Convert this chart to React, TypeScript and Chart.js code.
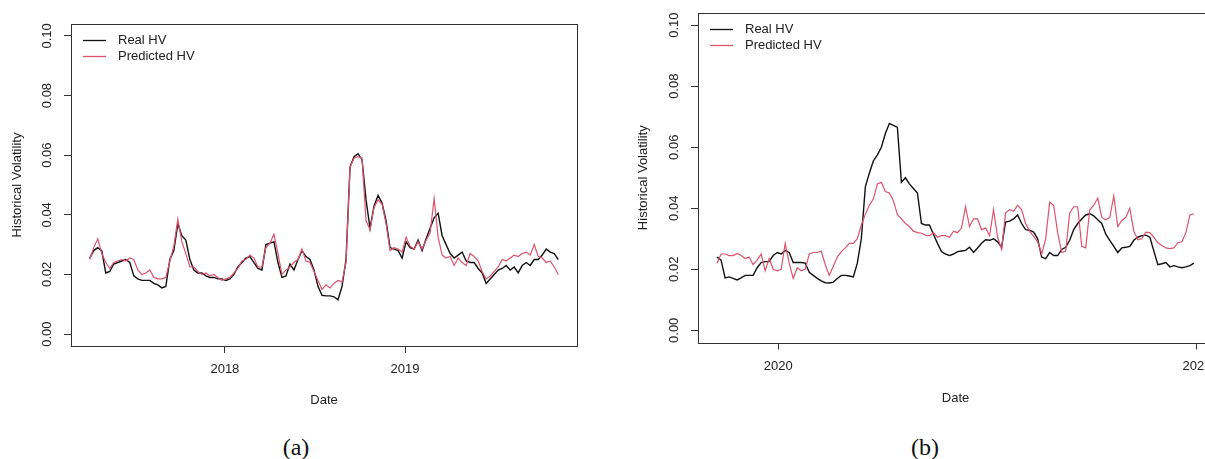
import React, { useEffect, useRef } from "react";
import { Chart, registerables } from "chart.js";

Chart.register(...registerables);

// ---------- data ----------
const SERIES_LABELS = ["Real HV", "Predicted HV"];
const SERIES_COLORS = ["#111111", "#DF536B"];
const Y_TICKS = [0, 0.02, 0.04, 0.06, 0.08, 0.1];
const Y_LIMITS = [0, 0.1];

// panel (a): sampled every ~8.1 calendar days from April 2017
const A_START = 2017.25;
const A_STEP_DAYS = 8.117;
const A_X_TICKS = [2018, 2019];
const A_REAL = [
  0.0255, 0.028, 0.029, 0.028, 0.0205, 0.021, 0.0235, 0.024, 0.0245, 0.025,
  0.024, 0.0195, 0.0185, 0.018, 0.018, 0.018, 0.017, 0.0165, 0.0155, 0.016,
  0.025, 0.028, 0.037, 0.033, 0.0315, 0.025, 0.0215, 0.0205, 0.0205, 0.0195,
  0.019, 0.019, 0.0185, 0.0185, 0.018, 0.0185, 0.02, 0.0225, 0.024, 0.0255,
  0.026, 0.024, 0.022, 0.0215, 0.03, 0.0305, 0.031, 0.024, 0.019, 0.0195,
  0.0235, 0.0215, 0.025, 0.028, 0.026, 0.025, 0.0215, 0.016, 0.013, 0.0128,
  0.0128, 0.0125, 0.0115, 0.016, 0.025, 0.056, 0.0595, 0.0605, 0.0585, 0.045,
  0.0355, 0.043, 0.0465, 0.044, 0.038, 0.029, 0.0285, 0.028, 0.0255, 0.031,
  0.029, 0.0285, 0.0315, 0.028, 0.032, 0.0355, 0.039, 0.0405, 0.033, 0.03,
  0.027, 0.0255, 0.0265, 0.0275, 0.0245, 0.024, 0.024, 0.022, 0.0205, 0.017,
  0.0185, 0.02, 0.0215, 0.022, 0.023, 0.0215, 0.0225, 0.0205, 0.023, 0.024,
  0.023, 0.025, 0.025, 0.0265, 0.0285, 0.0275, 0.027, 0.025,
];
const A_PRED = [
  0.025, 0.029, 0.032, 0.027, 0.024, 0.022, 0.024, 0.0245, 0.025, 0.0245,
  0.0255, 0.025, 0.0215, 0.02, 0.0205, 0.0215, 0.019, 0.0185, 0.0185, 0.019,
  0.0245, 0.0295, 0.0385, 0.031, 0.027, 0.0225, 0.0225, 0.021, 0.02, 0.0205,
  0.0195, 0.02, 0.019, 0.018, 0.0185, 0.019, 0.0205, 0.022, 0.0245, 0.025,
  0.0265, 0.0255, 0.0225, 0.0225, 0.029, 0.0305, 0.0335, 0.027, 0.02, 0.0215,
  0.0225, 0.024, 0.025, 0.0285, 0.0245, 0.024, 0.021, 0.018, 0.015, 0.0165,
  0.0155, 0.017, 0.018, 0.0175, 0.024, 0.056, 0.059, 0.0595, 0.059, 0.038,
  0.035, 0.0425, 0.045, 0.0435, 0.037, 0.028, 0.029, 0.0285, 0.0275, 0.0325,
  0.0295, 0.0285, 0.031, 0.0285, 0.0315, 0.034, 0.0455, 0.0325, 0.0265, 0.0255,
  0.026, 0.023, 0.0255, 0.024, 0.023, 0.027, 0.026, 0.0245, 0.021, 0.0185,
  0.0195, 0.021, 0.0225, 0.025, 0.0245, 0.0255, 0.0265, 0.026, 0.027, 0.0275,
  0.0265, 0.03, 0.026, 0.0255, 0.024, 0.0245, 0.0225, 0.02,
];

// panel (b): sampled every ~3.5 calendar days from November 2019
const B_START = 2019.854;
const B_STEP_DAYS = 3.495;
const B_X_TICKS = [2020, 2021];
const B_REAL = [
  0.024, 0.023, 0.0172, 0.0175, 0.017, 0.0165, 0.0172, 0.018, 0.018, 0.018,
  0.0205, 0.0222, 0.0225, 0.0225, 0.0245, 0.0255, 0.025, 0.0262, 0.0255, 0.0222,
  0.0222, 0.0222, 0.022, 0.019, 0.018, 0.017, 0.0162, 0.0156, 0.0155, 0.0158,
  0.017, 0.018, 0.018, 0.0178, 0.0175, 0.022, 0.03, 0.047, 0.0515, 0.0555,
  0.0575, 0.06, 0.0645, 0.0678, 0.0672, 0.0665, 0.0485, 0.05, 0.048, 0.0465,
  0.045, 0.035, 0.0345, 0.0345, 0.0315, 0.0285, 0.0258, 0.025, 0.0245, 0.025,
  0.0258, 0.026, 0.0262, 0.0272, 0.0255, 0.027, 0.0285, 0.0297, 0.0295, 0.03,
  0.029, 0.0272, 0.0355, 0.0358, 0.0365, 0.0378, 0.035, 0.033, 0.0328, 0.0322,
  0.03, 0.024, 0.0235, 0.0255, 0.0245, 0.0245, 0.0265, 0.0272, 0.0295, 0.033,
  0.035, 0.0365, 0.0378, 0.0382, 0.0375, 0.0362, 0.035, 0.0315, 0.0295, 0.0275,
  0.0255, 0.027, 0.0272, 0.0275, 0.0295, 0.0305, 0.031, 0.0312, 0.0305, 0.026,
  0.0215, 0.0218, 0.0222, 0.0208, 0.0212, 0.0208, 0.0205, 0.0208, 0.0212, 0.022,
];
const B_PRED = [
  0.022, 0.025, 0.025, 0.0245, 0.0245, 0.0252, 0.0245, 0.0235, 0.024, 0.0215,
  0.023, 0.025, 0.0195, 0.0235, 0.02, 0.0195, 0.02, 0.0285, 0.022, 0.017,
  0.0205, 0.0195, 0.02, 0.025, 0.0255, 0.0255, 0.026, 0.0215, 0.018, 0.021,
  0.024, 0.0258, 0.027, 0.0285, 0.0285, 0.03, 0.0345, 0.038, 0.041, 0.043,
  0.048, 0.0485, 0.0455, 0.045, 0.0425, 0.038, 0.0365, 0.035, 0.034, 0.0325,
  0.032, 0.0318, 0.0312, 0.031, 0.032, 0.0305, 0.031, 0.031, 0.0305, 0.0325,
  0.032, 0.0335, 0.0405, 0.034, 0.0365, 0.0365, 0.033, 0.0335, 0.031, 0.0395,
  0.0305, 0.0265, 0.0385, 0.0395, 0.039, 0.041, 0.0395, 0.035, 0.0325, 0.0308,
  0.029, 0.025, 0.03, 0.042, 0.041, 0.032, 0.0255, 0.026, 0.0385, 0.0405,
  0.0405, 0.0275, 0.027, 0.0395, 0.041, 0.0433, 0.037, 0.0362, 0.037, 0.044,
  0.034, 0.036, 0.037, 0.04, 0.0325, 0.0297, 0.03, 0.0322, 0.032, 0.0305,
  0.0287, 0.0278, 0.027, 0.0268, 0.027, 0.0287, 0.029, 0.032, 0.0378, 0.0382,
];

// ---------- helpers ----------
const FONT = "'Liberation Sans', Arial, Helvetica, sans-serif";
const TEXT = "#222222";

function toPoints(start: number, stepDays: number, values: number[]) {
  return values.map((y, i) => ({ x: start + (i * stepDays) / 365.25, y }));
}

// R-style 4% axis extension
function extend(lo: number, hi: number) {
  const d = (hi - lo) * 0.04;
  return [lo - d, hi + d];
}

const boxPlugin = {
  id: "rbox",
  afterDraw(chart: any) {
    const { ctx, chartArea: a } = chart;
    ctx.save();
    ctx.strokeStyle = "#333333";
    ctx.lineWidth = 1;
    const l = Math.round(a.left) + 0.5;
    const t = Math.round(a.top) + 0.5;
    const r = Math.round(a.right) + 0.5;
    const b = Math.round(a.bottom) + 0.5;
    ctx.strokeRect(l, t, r - l, b - t);
    ctx.restore();
  },
};

const legendPlugin = {
  id: "rlegend",
  afterDraw(chart: any) {
    const { ctx, chartArea: a } = chart;
    ctx.save();
    ctx.font = `13px ${FONT}`;
    ctx.textBaseline = "middle";
    chart.data.datasets.forEach((ds: any, i: number) => {
      const y = Math.round(a.top + 15.5 + i * 16) + 0.5;
      ctx.strokeStyle = ds.borderColor;
      ctx.lineWidth = 1.3;
      ctx.beginPath();
      ctx.moveTo(a.left + 12, y);
      ctx.lineTo(a.left + 35, y);
      ctx.stroke();
      ctx.fillStyle = TEXT;
      ctx.fillText(ds.label, a.left + 47, y);
    });
    ctx.restore();
  },
};

type PanelCfg = {
  start: number;
  stepDays: number;
  real: number[];
  pred: number[];
  xTicks: number[];
  width: number;
  height: number;
  pad: { top: number; right: number };
  yAxisWidth: number;
  xAxisHeight: number;
  yTitlePad: number;
  xTitlePad: number;
  xTickPad: number;
};

function buildChart(canvas: HTMLCanvasElement, p: PanelCfg) {
  const realPts = toPoints(p.start, p.stepDays, p.real);
  const predPts = toPoints(p.start, p.stepDays, p.pred);
  const [xMin, xMax] = extend(realPts[0].x, realPts[realPts.length - 1].x);
  const [yMin, yMax] = extend(Y_LIMITS[0], Y_LIMITS[1]);
  return new Chart(canvas, {
    type: "line",
    data: {
      datasets: [
        {
          label: SERIES_LABELS[0],
          data: realPts,
          borderColor: SERIES_COLORS[0],
          borderWidth: 1.4,
          pointRadius: 0,
          tension: 0,
          order: 2,
        },
        {
          label: SERIES_LABELS[1],
          data: predPts,
          borderColor: SERIES_COLORS[1],
          borderWidth: 1.2,
          pointRadius: 0,
          tension: 0,
          order: 1,
        },
      ],
    },
    options: {
      animation: false,
      responsive: false,
      maintainAspectRatio: false,
      devicePixelRatio: 1,
      layout: { padding: { top: p.pad.top, right: p.pad.right, left: 0, bottom: 0 } },
      plugins: {
        legend: { display: false },
        tooltip: { enabled: false },
      },
      scales: {
        x: {
          type: "linear",
          min: xMin,
          max: xMax,
          afterBuildTicks: (s: any) => {
            s.ticks = p.xTicks.map((v) => ({ value: v }));
          },
          afterFit: (s: any) => {
            s.height = p.xAxisHeight;
          },
          grid: { drawOnChartArea: false, drawTicks: true, tickLength: 7, color: "#333333", lineWidth: 1 },
          border: { display: false },
          ticks: {
            autoSkip: false,
            maxRotation: 0,
            minRotation: 0,
            padding: p.xTickPad,
            color: TEXT,
            font: { family: FONT, size: 13 },
            callback: (v: any) => String(Math.round(Number(v))),
          },
          title: {
            display: true,
            text: "Date",
            color: TEXT,
            font: { family: FONT, size: 13 },
            padding: { top: 0, bottom: p.xTitlePad },
          },
        },
        y: {
          type: "linear",
          min: yMin,
          max: yMax,
          afterBuildTicks: (s: any) => {
            s.ticks = Y_TICKS.map((v) => ({ value: v }));
          },
          afterFit: (s: any) => {
            s.width = p.yAxisWidth;
          },
          grid: { drawOnChartArea: false, drawTicks: true, tickLength: 7, color: "#333333", lineWidth: 1 },
          border: { display: false },
          ticks: {
            autoSkip: false,
            minRotation: 90,
            maxRotation: 90,
            crossAlign: "center",
            padding: 4,
            color: TEXT,
            font: { family: FONT, size: 13 },
            callback: (v: any) => Number(v).toFixed(2),
          },
          title: {
            display: true,
            text: "Historical Volatility",
            color: TEXT,
            font: { family: FONT, size: 13 },
            padding: { top: p.yTitlePad, bottom: 0 },
          },
        },
      },
    } as any,
    plugins: [boxPlugin, legendPlugin],
  });
}

const PANEL_A: PanelCfg = {
  start: A_START,
  stepDays: A_STEP_DAYS,
  real: A_REAL,
  pred: A_PRED,
  xTicks: A_X_TICKS,
  width: 600,
  height: 420,
  pad: { top: 24, right: 23 },
  yAxisWidth: 71,
  xAxisHeight: 74,
  yTitlePad: 9.7,
  xTitlePad: 12.2,
  xTickPad: 8.3,
};

const PANEL_B: PanelCfg = {
  start: B_START,
  stepDays: B_STEP_DAYS,
  real: B_REAL,
  pred: B_PRED,
  xTicks: B_X_TICKS,
  width: 640,
  height: 420,
  pad: { top: 13, right: 27 },
  yAxisWidth: 98,
  xAxisHeight: 77.5,
  yTitlePad: 35.2,
  xTitlePad: 13.7,
  xTickPad: 9.6,
};

function Panel({ cfg, left }: { cfg: PanelCfg; left: number }) {
  const ref = useRef<HTMLCanvasElement | null>(null);
  useEffect(() => {
    if (!ref.current) return;
    const chart = buildChart(ref.current, cfg);
    return () => chart.destroy();
  }, [cfg]);
  return (
    <canvas
      ref={ref}
      width={cfg.width}
      height={cfg.height}
      style={{ position: "absolute", left, top: 0, width: cfg.width, height: cfg.height }}
    />
  );
}

const captionStyle = (center: number): React.CSSProperties => ({
  position: "absolute",
  left: center - 40,
  width: 80,
  top: 434,
  height: 26,
  lineHeight: "26px",
  textAlign: "center",
  fontFamily: "'Liberation Serif', 'Times New Roman', serif",
  fontSize: 24,
  color: "#111",
});

export default function App() {
  return (
    <div
      style={{
        position: "fixed",
        left: 0,
        top: 0,
        width: 1205,
        height: 459,
        overflow: "hidden",
        background: "#ffffff",
      }}
    >
      <Panel cfg={PANEL_A} left={0} />
      <Panel cfg={PANEL_B} left={600} />
      <div style={captionStyle(296)}>(a)</div>
      <div style={captionStyle(925)}>(b)</div>
    </div>
  );
}
